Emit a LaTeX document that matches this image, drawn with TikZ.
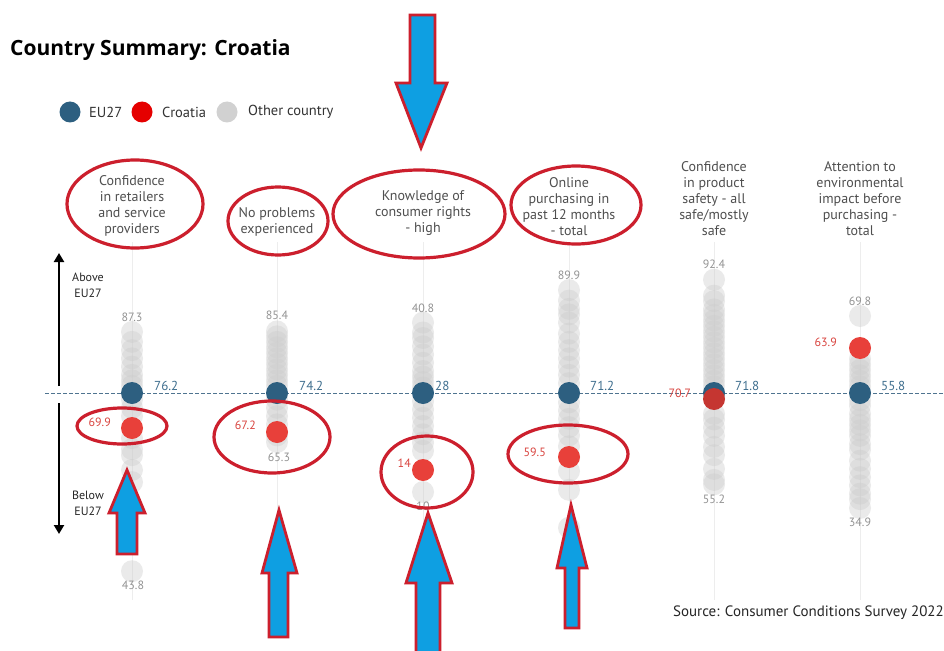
\documentclass[tikz,border=0pt]{standalone}
\usepackage{fontspec}
\setmainfont{PT Sans}
\newfontfamily\titlefont{Open Sans}
\usetikzlibrary{arrows.meta}
\definecolor{eublue}{HTML}{2D5F80}
\definecolor{hrred}{HTML}{E8403A}
\definecolor{annred}{HTML}{CC1F2D}
\definecolor{arrblue}{HTML}{0E9FE2}
\definecolor{hdrgray}{HTML}{4F4F4F}
\definecolor{valgray}{HTML}{939393}
\definecolor{eutext}{HTML}{3E6E8E}
\definecolor{hrtext}{HTML}{D9443F}
\definecolor{dashcol}{HTML}{4F7490}
\begin{document}
\begin{tikzpicture}[x=1pt,y=-1pt,
  gdot/.style={circle,fill=black!20,opacity=0.4,minimum size=22pt,inner sep=0},
  edot/.style={circle,fill=eublue,minimum size=22pt,inner sep=0},
  rdot/.style={circle,fill=hrred,minimum size=22pt,inner sep=0},
  hdr/.style={align=center,text=hdrgray,font=\fontsize{14}{16}\selectfont,anchor=south,inner sep=0},
  val/.style={text=valgray,font=\fontsize{12}{14}\selectfont,inner sep=0},
  eulab/.style={text=eutext,font=\fontsize{13}{15}\selectfont,anchor=west,inner sep=0},
  hrlab/.style={text=hrtext,font=\fontsize{12}{14}\selectfont,anchor=east,inner sep=0},
  legtxt/.style={text=black!80,font=\fontsize{14.5}{16}\selectfont,anchor=west,inner sep=0},
  sidetxt/.style={text=black!85,font=\fontsize{12}{16}\selectfont,align=center,inner sep=0},
  colline/.style={draw=black!7,line width=1pt},
  ann/.style={draw=annred,line width=3.2pt},
  barrow/.style={fill=arrblue,draw=annred,line width=2.8pt,line join=miter},
]
\useasboundingbox[fill=white] (0,0) rectangle (944,650);

% title
\node[anchor=west,inner sep=0,font=\titlefont\bfseries\fontsize{21}{24}\selectfont] (title) at (10,50) {Country Summary: Croatia};

% legend
\node[edot,minimum size=21pt] (legeu) at (70,112) {};
\node[legtxt] (legeut) at (89,112) {EU27};
\node[rdot,fill=red!90!black,minimum size=21pt] (leghr) at (142,112) {};
\node[legtxt] (leghrt) at (162,112) {Croatia};
\node[circle,fill=black!18,minimum size=21pt,inner sep=0] (legot) at (227,112) {};
\node[legtxt] (legott) at (248,112) {Other country};

% column lines
\foreach \cx/\nm in {132/a,277/b,423/c,569/d,714/e,860/f}{
  \coordinate (top\nm) at (\cx,242);
  \coordinate (bot\nm) at (\cx,600);
  \draw[colline] (top\nm) -- (bot\nm);
}

% headers
\node[hdr] (h1) at (132,236) {Confidence\\in retailers\\and service\\providers};
\node[hdr] (h2) at (277,236) {No problems\\experienced};
\node[hdr] (h3) at (423,236) {Knowledge of\\consumer rights\\- high};
\node[hdr] (h4) at (569,236) {Online\\purchasing in\\past 12 months\\- total};
\node[hdr] (h5) at (714,236) {Confidence\\in product\\safety - all\\safe/mostly\\safe};
\node[hdr] (h6) at (860,236) {Attention to\\environmental\\impact before\\purchasing -\\total};

% gray dots
\foreach \v [count=\i] in {87.3,85.5,84,82.5,81,79.5,78.5,77.5,75,73.5,72,68,66,64.9,62.2,60,43.8}{
  \pgfmathsetmacro\yy{393-(\v-76.2)*5.5}
  \node[gdot] (ga\i) at (132,\yy) {};
}
\foreach \v [count=\i] in {85.4,84.5,83.5,82.5,81.5,80.5,79.5,78.5,77.5,76.5,75.5,73,71.5,70,68.5,66.5,65.3}{
  \pgfmathsetmacro\yy{393-(\v-74.2)*5.5}
  \node[gdot] (gb\i) at (277,\yy) {};
}
\foreach \v [count=\i] in {40.8,39,38,36.5,35,33.5,32,31,30,29,26.5,25,23.5,22,20.5,19,17.5,10}{
  \pgfmathsetmacro\yy{393-(\v-28)*5.5}
  \node[gdot] (gc\i) at (423,\yy) {};
}
\foreach \v [count=\i] in {89.9,88,86.5,85.5,84,82,80.5,79,77.5,76,74.5,73,69.5,68,66.5,65,63.5,61.5,57,53.6,46.7}{
  \pgfmathsetmacro\yy{393-(\v-71.2)*5.5}
  \node[gdot] (gd\i) at (569,\yy) {};
}
\foreach \v [count=\i] in {92.4,89.5,88.5,87,86,85,84,83,82,81,80,79,78,77,76,75,74,73,68,67,65.5,64,62,60.5,58,56,55.2}{
  \pgfmathsetmacro\yy{393-(\v-71.8)*5.5}
  \node[gdot] (ge\i) at (714,\yy) {};
}
\foreach \v [count=\i] in {69.8,62,61,60,59,58,57,54.5,53.5,52,51,50,49,48,46.5,45.5,43.5,42,40.5,39,37.5,36.5,34.9}{
  \pgfmathsetmacro\yy{393-(\v-55.8)*5.5}
  \node[gdot] (gf\i) at (860,\yy) {};
}

% EU27 reference line
\coordinate (dl) at (45,393);
\coordinate (dr) at (944,393);
\draw[dashcol,line width=1pt,dash pattern=on 3.5pt off 2.5pt] (dl) -- (dr);

% EU27 dots
\foreach \cx/\nm in {132/a,277/b,423/c,569/d,714/e,860/f}{
  \node[edot] (eu\nm) at (\cx,393) {};
}
% Croatia dots
\node[rdot] (hra) at (132,428) {};
\node[rdot] (hrb) at (277,432) {};
\node[rdot] (hrc) at (423,470) {};
\node[rdot] (hrd) at (569,457) {};
\node[rdot,fill=hrred!85!black] (hre) at (714,399) {};
\node[rdot] (hrf) at (860,348) {};

% top / bottom value labels
\node[val] (ta) at (132,317) {87.3};
\node[val] (tb) at (277,315) {85.4};
\node[val] (tc) at (423,308) {40.8};
\node[val] (td) at (569,275) {89.9};
\node[val] (te) at (714,264) {92.4};
\node[val] (tf) at (860,301) {69.8};
\node[val] (ba) at (133,585) {43.8};
\node[val] (bb) at (279,457) {65.3};
\node[val] (bc) at (423,506) {10};
\node[val] (be) at (714,499) {55.2};
\node[val] (bf) at (860,522) {34.9};

% EU27 value labels
\node[eulab] (la) at (154,386) {76.2};
\node[eulab] (lb) at (299,386) {74.2};
\node[eulab] (lc) at (435,386) {28};
\node[eulab] (ld) at (590,386) {71.2};
\node[eulab] (le) at (735,386) {71.8};
\node[eulab] (lf) at (881,386) {55.8};

% Croatia value labels
\node[hrlab] (ra) at (111,422) {69.9};
\node[hrlab] (rb) at (256,425) {67.2};
\node[hrlab] (rc) at (411,463) {14};
\node[hrlab] (rd) at (546,452) {59.5};
\node[hrlab] (re) at (691,393) {70.7};
\node[hrlab] (rf) at (837,342) {63.9};

% side arrows
\coordinate (upfrom) at (59,386);
\coordinate (upto) at (59,253);
\coordinate (dnfrom) at (59,403);
\coordinate (dnto) at (59,534);
\draw[line width=2.8pt,-{Triangle[length=9pt,width=10pt]}] (upfrom) -- (upto);
\draw[line width=2.8pt,-{Triangle[length=9pt,width=10pt]}] (dnfrom) -- (dnto);
\node[sidetxt] (above) at (88,285) {Above\\EU27};
\node[sidetxt] (below) at (88,503) {Below\\EU27};

% source
\node[anchor=east,inner sep=0,text=black!85,font=\fontsize{15}{18}\selectfont] (src) at (944,613) {Source: Consumer Conditions Survey 2022};

% annotation ellipses
\draw[ann] (135,204) ellipse [x radius=68, y radius=44];
\draw[ann] (278,221) ellipse [x radius=50, y radius=34];
\draw[ann] (419,214) ellipse [x radius=86, y radius=44];
\draw[ann] (576,205) ellipse [x radius=65, y radius=39];
\draw[ann] (122,426) ellipse [x radius=45, y radius=18];
\draw[ann] (272,437) ellipse [x radius=58, y radius=36];
\draw[ann] (427,472) ellipse [x radius=46, y radius=36];
\draw[ann] (568,454) ellipse [x radius=60, y radius=29];

% block arrows
\draw[barrow] (410,15) -- (435,15) -- (435,83) -- (447,83) -- (421,148) -- (396,83) -- (410,83) -- cycle;
\draw[barrow] (117,554) -- (117,513) -- (109,513) -- (127,470) -- (145,513) -- (137,513) -- (137,554) -- cycle;
\draw[barrow] (269,637) -- (269,573) -- (262,573) -- (279,510) -- (297,573) -- (288,573) -- (288,637) -- cycle;
\draw[barrow] (416,660) -- (416,583) -- (406,583) -- (428,513) -- (452,583) -- (440,583) -- (440,660) -- cycle;
\draw[barrow] (565,628) -- (565,568) -- (557,568) -- (571,505) -- (587,568) -- (579,568) -- (579,628) -- cycle;
\end{tikzpicture}
\end{document}
